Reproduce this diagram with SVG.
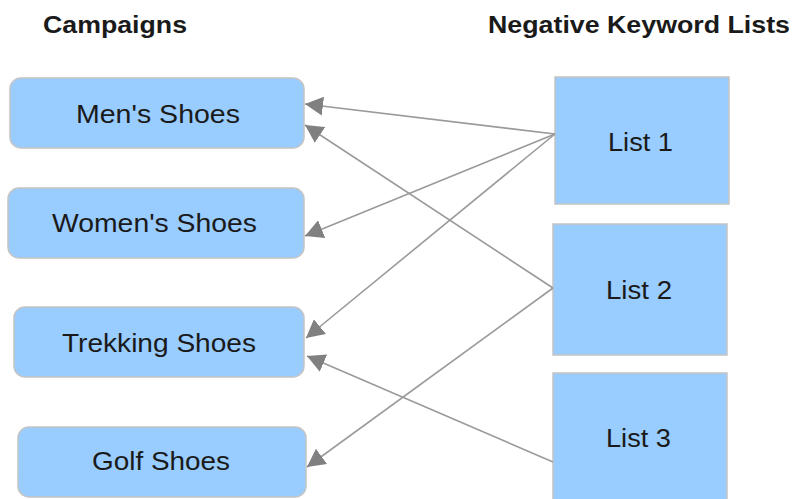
<svg xmlns="http://www.w3.org/2000/svg" width="796" height="499" viewBox="0 0 796 499">
<defs>
<style>
.box{fill:#99ccff;stroke:#c4c4c4;stroke-width:1.5}
.lbl{font-family:"Liberation Sans",Arial,sans-serif;font-size:25px;fill:#1a1a1a;text-anchor:start}
.hdr{font-family:"Liberation Sans",Arial,sans-serif;font-size:23px;font-weight:bold;fill:#1a1a1a}
.conn{stroke:#9a9a9a;stroke-width:1.6;fill:none;marker-end:url(#ah)}
</style>
<marker id="ah" markerUnits="userSpaceOnUse" markerWidth="19" markerHeight="19" refX="18" refY="9.5" orient="auto">
<path d="M0,0 L18,9.5 L0,19 z" fill="#808080"/>
</marker>
</defs>
<rect width="796" height="499" fill="#ffffff"/>
<text class="hdr" x="43" y="33" textLength="144" lengthAdjust="spacingAndGlyphs">Campaigns</text>
<text class="hdr" x="488" y="33" textLength="302" lengthAdjust="spacingAndGlyphs">Negative Keyword Lists</text>
<g id="mens">
<rect class="box" x="10" y="78" width="294" height="70" rx="11"/>
<text class="lbl" x="76" y="123" textLength="164" lengthAdjust="spacingAndGlyphs">Men's Shoes</text>
</g>
<g id="womens">
<rect class="box" x="8" y="188" width="296" height="70" rx="11"/>
<text class="lbl" x="52" y="232" textLength="205" lengthAdjust="spacingAndGlyphs">Women's Shoes</text>
</g>
<g id="trekking">
<rect class="box" x="14" y="307" width="290" height="70" rx="11"/>
<text class="lbl" x="62" y="352" textLength="194" lengthAdjust="spacingAndGlyphs">Trekking Shoes</text>
</g>
<g id="golf">
<rect class="box" x="18" y="427" width="288" height="70" rx="11"/>
<text class="lbl" x="92" y="470" textLength="138" lengthAdjust="spacingAndGlyphs">Golf Shoes</text>
</g>
<g id="list1">
<rect class="box" x="555" y="77" width="174" height="127"/>
<text class="lbl" x="608" y="151" textLength="65" lengthAdjust="spacingAndGlyphs">List 1</text>
</g>
<g id="list2">
<rect class="box" x="553" y="224" width="174" height="131"/>
<text class="lbl" x="606" y="299" textLength="66" lengthAdjust="spacingAndGlyphs">List 2</text>
</g>
<g id="list3">
<rect class="box" x="553" y="373" width="174" height="130"/>
<text class="lbl" x="606" y="447" textLength="65" lengthAdjust="spacingAndGlyphs">List 3</text>
</g>
<g id="connectors">
<line class="conn" x1="555" y1="134" x2="305" y2="104"/>
<line class="conn" x1="555" y1="134" x2="305" y2="236"/>
<line class="conn" x1="555" y1="134" x2="306" y2="338"/>
<line class="conn" x1="553" y1="288" x2="305" y2="125"/>
<line class="conn" x1="553" y1="288" x2="307" y2="467"/>
<line class="conn" x1="553" y1="462" x2="307" y2="356"/>
</g>
</svg>
